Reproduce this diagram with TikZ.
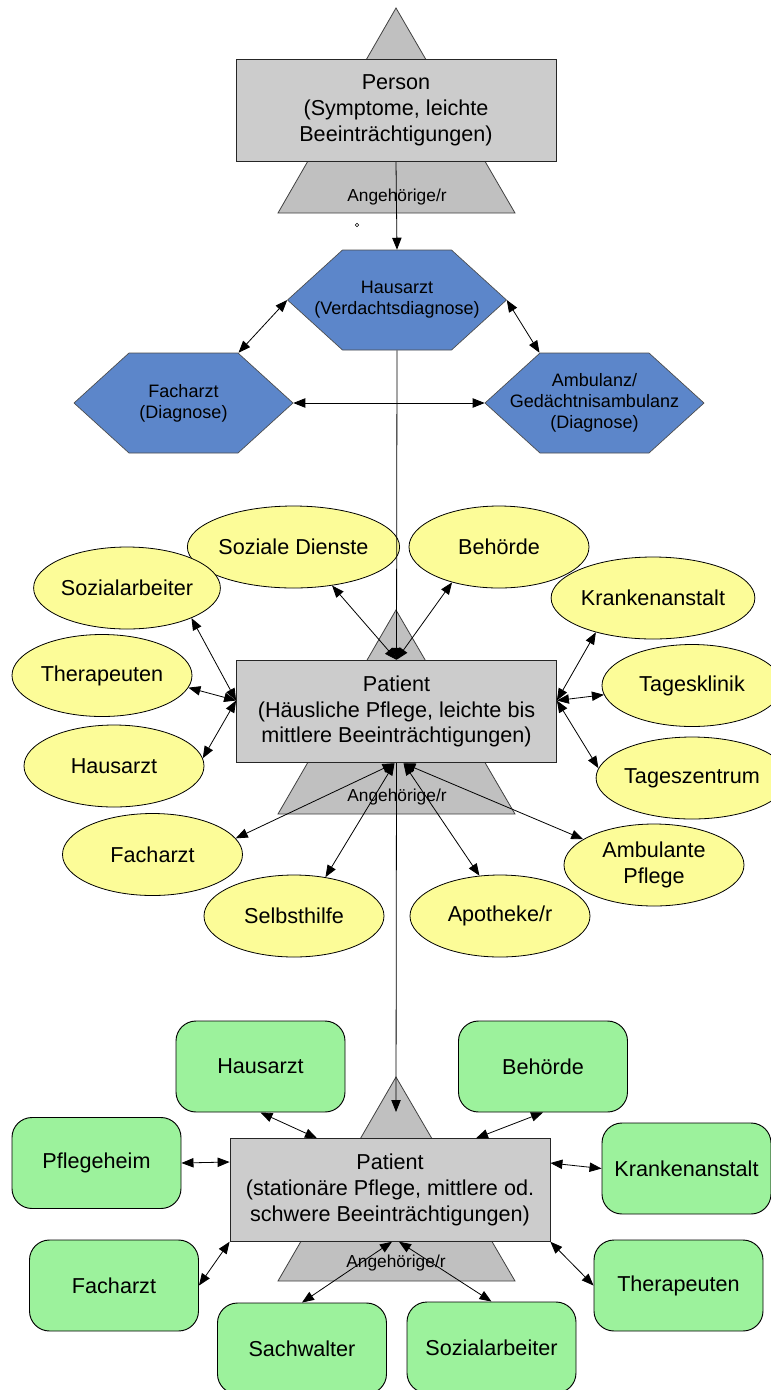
\documentclass[tikz,border=0pt]{standalone}
\usepackage{fontspec}
\setmainfont{Liberation Sans}
\usetikzlibrary{arrows.meta,shapes.geometric,calc}
\definecolor{boxgray}{RGB}{204,204,204}
\definecolor{trigray}{RGB}{192,192,192}
\definecolor{hexblue}{RGB}{92,134,202}
\definecolor{ellyellow}{RGB}{252,252,152}
\definecolor{boxgreen}{RGB}{156,242,156}

\begin{document}
\begin{tikzpicture}[x=0.75pt, y=-0.75pt, every node/.style={font=\fontsize{16.2}{19.4}\selectfont}]
\tikzset{patbox/.style={draw=black!85, fill=boxgray, line width=0.6pt, align=center, inner sep=0pt, minimum width=240pt, minimum height=77pt}}
\tikzset{angtri/.style={draw=black!75, fill=trigray, line width=0.6pt}}
\tikzset{angtext/.style={font=\fontsize{13}{15}\selectfont, inner sep=0pt}}
\tikzset{hexa/.pic={\draw[draw=black!70, fill=hexblue, line width=0.5pt] (-109.5,0) -- (-54.5,-50) -- (54.5,-50) -- (109.5,0) -- (54.5,50) -- (-54.5,50) -- cycle;}}
\tikzset{arzt/.style={rectangle, minimum width=164.25pt, minimum height=75pt, inner sep=0pt, align=center, font=\fontsize{13.5}{15.8}\selectfont}}
\tikzset{kreis/.style={ellipse, draw, fill=ellyellow, line width=0.6pt, minimum width=135pt, minimum height=61.5pt, inner sep=0pt, align=center}}
\tikzset{heim/.style={rectangle, rounded corners=15pt, draw, fill=boxgreen, line width=0.7pt, minimum width=126.75pt, minimum height=68.25pt, inner sep=0pt, align=center}}
\tikzset{link/.style={{Triangle[length=9pt,width=7pt]}-{Triangle[length=9pt,width=7pt]}, line width=0.6pt}}
\tikzset{feed/.style={-{Triangle[length=9pt,width=7pt]}, line width=0.6pt}}
\useasboundingbox (0,0) rectangle (771,1390);
\clip (0,0) rectangle (771,1390);
\draw[angtri] (396,8) -- (515,213) -- (278,213) -- cycle;
\draw[angtri] (396,610) -- (515,814) -- (278,814) -- cycle;
\draw[angtri] (396,1077) -- (515,1281) -- (278,1281) -- cycle;
\node[angtext] (ang1) at (397,197) {Angehörige/r};
\node[angtext] (ang2) at (397,797) {Angehörige/r};
\node[angtext] (ang3) at (396,1263) {Angehörige/r};
\node[circle, draw, inner sep=0pt, minimum size=2.5pt, line width=0.4pt] (speck) at (357,225) {};
\node[patbox] (p1) at (396,110.5) {Person\\(Symptome, leichte\\Beeinträchtigungen)};
\pic at (397,300) {hexa};
\node[arzt] (hz) at (397,300) {Hausarzt\\(Verdachtsdiagnose)};
\pic at (183.5,403) {hexa};
\node[arzt] (fa) at (183.5,403) {Facharzt\\(Diagnose)};
\pic at (594.5,403) {hexa};
\node[arzt] (am) at (594.5,403) {Ambulanz/\\Gedächtnisambulanz\\(Diagnose)};
\node[patbox] (p2) at (396.5,711.5) {Patient\\(Häusliche Pflege, leichte bis\\mittlere Beeinträchtigungen)};
\node[kreis] (sd) at (293.5,547) {Soziale Dienste};
\node[kreis] (be) at (499,547) {Behörde};
\node[kreis] (sa) at (127,588) {Sozialarbeiter};
\node[kreis] (th) at (102,675.5) {Therapeuten};
\node[kreis] (ha) at (114,766) {Hausarzt};
\node[kreis] (ka) at (653,598) {Krankenanstalt};
\node[kreis] (tk) at (692,685.5) {Tagesklinik};
\node[kreis] (tz) at (692,778) {Tageszentrum};
\node[kreis] (fc) at (152.5,854.5) {Facharzt};
\node[kreis] (sh) at (294,916) {Selbsthilfe};
\node[kreis] (ap) at (500,916) {Apotheke/r};
\node[kreis] (ab) at (654,865) {Ambulante\\Pflege};
\node[patbox] (p3) at (390,1190) {Patient\\(stationäre Pflege, mittlere od.\\schwere Beeinträchtigungen)};
\node[heim] (gh) at (260.5,1066.5) {Hausarzt};
\node[heim] (gb) at (543,1066.5) {Behörde};
\node[heim] (gp) at (96.5,1163) {Pflegeheim};
\node[heim] (gk) at (686.5,1168.5) {Krankenanstalt};
\node[heim] (gf) at (114,1285.5) {Facharzt};
\node[heim] (gt) at (678.5,1285.5) {Therapeuten};
\node[heim] (gs) at (302,1348.5) {Sachwalter};
\node[heim] (gz) at (491.5,1347.5) {Sozialarbeiter};
\coordinate (drop) at (396,1112);
\draw[feed] (p1.south) -- (hz.north);
\draw[link] (hz.west) -- ($(fa.north)+(55,0)$);
\draw[link] (hz.east) -- ($(am.north)+(-55,0)$);
\draw[link] (fa.east) -- (am.west);
\draw[feed] (hz.south) -- (p2.north);
\draw[link] (sd.315) -- (p2.north);
\draw[link] (be.217) -- (p2.north);
\draw[link] (sa.-25) -- ($(p2.west)+(0,-11)$);
\draw[link] (th.-8) -- ($(p2.west)+(0,-11)$);
\draw[link] (ha.5) -- ($(p2.west)+(0,-11)$);
\draw[link] (ka.211) -- ($(p2.east)+(0,-11)$);
\draw[link] (tk.186) -- ($(p2.east)+(0,-11)$);
\draw[link] (tz.174) -- ($(p2.east)+(0,-11)$);
\draw[link] (fc.11) -- ($(p2.south)+(-2,0)$);
\draw[link] (sh.51) -- ($(p2.south)+(-2,0)$);
\draw[link] (ap.117) -- ($(p2.south)+(7,0)$);
\draw[link] (ab.160) -- ($(p2.south)+(7,0)$);
\draw[feed] (p2.south) -- (drop);
\draw[link] (gh.south) -- ($(p3.north)+(-73,0)$);
\draw[link] (gb.south) -- ($(p3.north)+(86,0)$);
\draw[link] (gp.east) -- ($(p3.west)+(0,-28)$);
\draw[link] (gk.west) -- ($(p3.east)+(0,-27)$);
\draw[link] (gf.east) -- (p3.south west);
\draw[link] (gt.west) -- (p3.south east);
\draw[link] (gs.north) -- ($(p3.south)+(2,0)$);
\draw[link] (gz.north) -- ($(p3.south)+(9,0)$);
\end{tikzpicture}
\end{document}
